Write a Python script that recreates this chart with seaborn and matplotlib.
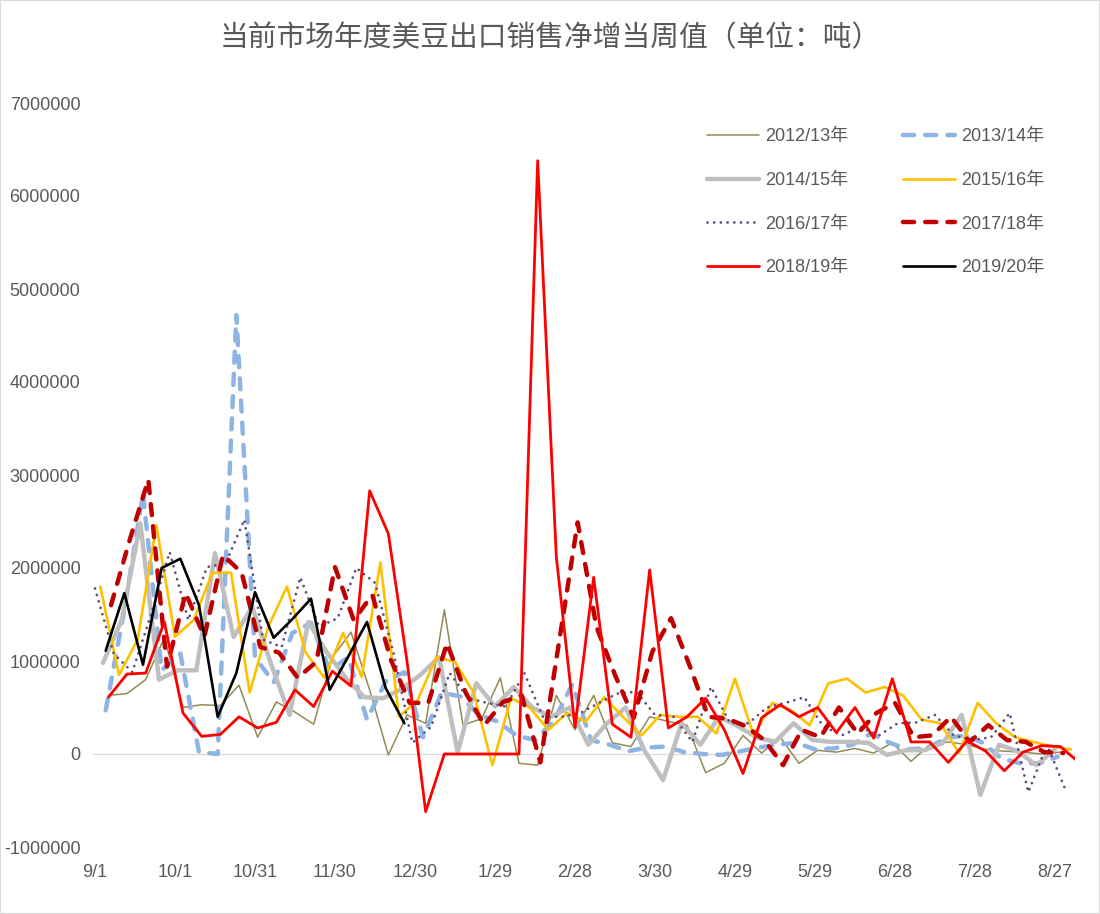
import pandas as pd
import matplotlib.pyplot as plt
import seaborn as sns
from matplotlib.patches import Rectangle

sns.set_style("white")
plt.rcParams['font.family'] = ['Liberation Sans', 'Noto Sans CJK SC']

title = "当前市场年度美豆出口销售净增当周值（单位：吨）"
seasons = ["2012/13年", "2013/14年", "2014/15年", "2015/16年",
           "2016/17年", "2017/18年", "2018/19年", "2019/20年"]
# first weekly report date of each marketing year
start_dates = ["2012-09-06", "2013-09-05", "2014-09-04", "2015-09-03",
               "2016-09-01", "2017-09-07", "2018-09-06", "2019-09-05"]
tick_labels = ["9/1", "10/1", "10/31", "11/30", "12/30", "1/29", "2/28",
               "3/30", "4/29", "5/29", "6/28", "7/28", "8/27"]

# weekly net sales, million tonnes
s1213 = [0.63, 0.65, 0.80, 1.25, 0.50, 0.53, 0.52, 0.74, 0.18, 0.56,
         0.45, 0.32, 1.04, 1.31, 0.69, -0.01, 0.42, 0.33, 1.55, 0.31,
         0.38, 0.82, -0.10, -0.12, 0.63, 0.26, 0.63, 0.12, 0.08, 0.40,
         0.35, 0.31, -0.20, -0.10, 0.20, 0.01, 0.18, -0.10, 0.04, 0.02,
         0.06, 0.01, 0.12, -0.08, 0.10, 0.13, 0.10, 0.05, 0.03, 0.02,
         0.00, 0.02]
s1314 = [0.47, 1.55, 2.80, 0.90, 1.08, 0.02, 0.00, 4.72, 1.04, 0.77,
         1.30, 1.41, 0.90, 1.04, 0.37, 0.78, 0.88, 0.18, 0.66, 0.62,
         0.42, 0.35, 0.20, 0.15, 0.35, 0.75, 0.15, 0.10, 0.03, 0.07,
         0.08, 0.02, 0.00, -0.01, 0.03, 0.07, 0.10, 0.12, 0.05, 0.06,
         0.10, 0.22, 0.12, 0.05, 0.06, 0.17, 0.20, 0.12, -0.05, -0.10,
         -0.10, -0.03]
s1415 = [0.98, 1.44, 2.48, 0.80, 0.90, 0.90, 2.16, 1.26, 1.58, 0.97,
         0.42, 1.42, 1.09, 0.82, 0.61, 0.60, 0.70, 0.85, 1.04, 0.02,
         0.76, 0.51, 0.72, 0.50, 0.40, 0.50, 0.10, 0.33, 0.50, 0.04,
         -0.28, 0.33, 0.10, 0.40, 0.30, 0.18, 0.13, 0.33, 0.15, 0.13,
         0.13, 0.12, -0.01, 0.04, 0.04, 0.12, 0.42, -0.44, 0.10, 0.03,
         -0.12, 0.05]
s1516 = [1.80, 0.85, 1.23, 2.46, 1.26, 1.44, 1.95, 1.95, 0.66, 1.37,
         1.80, 1.09, 0.82, 1.30, 0.83, 2.06, 0.40, 0.58, 1.04, 0.99,
         0.66, -0.12, 0.60, 0.50, 0.26, 0.44, 0.35, 0.61, 0.40, 0.20,
         0.42, 0.40, 0.40, 0.22, 0.81, 0.20, 0.55, 0.47, 0.31, 0.76,
         0.81, 0.66, 0.72, 0.63, 0.37, 0.33, 0.01, 0.55, 0.33, 0.18,
         0.13, 0.08, 0.05]
s1617 = [1.78, 1.08, 0.88, 1.50, 2.17, 1.44, 2.01, 2.05, 2.52, 1.23,
         1.15, 1.90, 1.37, 1.46, 2.00, 1.84, 1.08, 0.12, 0.29, 0.87,
         0.60, 0.55, 0.51, 0.87, 0.40, 0.40, 0.44, 0.55, 0.65, 0.67,
         0.42, 0.40, 0.13, 0.72, 0.34, 0.33, 0.50, 0.55, 0.61, 0.30,
         0.20, 0.29, 0.20, 0.33, 0.34, 0.42, 0.20, 0.15, 0.18, 0.44,
         -0.41, 0.10, -0.39]
s1718 = [1.60, 2.30, 2.95, 0.94, 1.73, 1.26, 2.14, 1.95, 1.15, 1.09,
         0.82, 0.99, 2.01, 1.44, 1.71, 1.01, 0.55, 0.55, 1.19, 0.66,
         0.31, 0.56, 0.63, -0.09, 1.20, 2.49, 1.37, 0.85, 0.39, 1.10,
         1.46, 0.95, 0.40, 0.38, 0.30, 0.15, -0.12, 0.26, 0.18, 0.50,
         0.22, 0.44, 0.55, 0.18, 0.20, 0.40, 0.13, 0.31, 0.15, 0.13,
         0.02, 0.01]
s1819 = [0.61, 0.86, 0.87, 1.42, 0.44, 0.19, 0.21, 0.40, 0.28, 0.34,
         0.69, 0.51, 0.89, 0.73, 2.83, 2.37, 1.00, -0.62, 0.00, 0.00,
         0.00, 0.00, 0.00, 6.38, 2.12, 0.29, 1.90, 0.32, 0.18, 1.98,
         0.28, 0.40, 0.60, 0.26, -0.21, 0.39, 0.53, 0.40, 0.50, 0.23,
         0.50, 0.17, 0.81, 0.13, 0.13, -0.09, 0.14, 0.03, -0.18, 0.02,
         0.09, 0.08, -0.09]
s1920 = [1.11, 1.73, 0.96, 2.00, 2.10, 1.60, 0.40, 0.87, 1.74, 1.25,
         1.45, 1.67, 0.69, 1.05, 1.42, 0.71, 0.33]

series = [s1213, s1314, s1415, s1516, s1617, s1718, s1819, s1920]

styles = [
    dict(color="#948A54", linewidth=1.1, linestyle="-"),
    dict(color="#8EB4E3", linewidth=3.2, linestyle=(0, (2.5, 2.5)), dash_capstyle="round"),
    dict(color="#BFBFBF", linewidth=3.2, linestyle="-"),
    dict(color="#FFC000", linewidth=1.9, linestyle="-"),
    dict(color="#604A7B", linewidth=2.0, linestyle=(0, (0.01, 2.4)), dash_capstyle="round"),
    dict(color="#C00000", linewidth=3.2, linestyle=(0, (2.5, 2.5)), dash_capstyle="round"),
    dict(color="#FF0000", linewidth=2.0, linestyle="-"),
    dict(color="#000000", linewidth=1.9, linestyle="-"),
]

fig = plt.figure(figsize=(11, 9.14), dpi=100)
ax = fig.add_axes([93 / 1100, 1 - 847 / 914, (1075 - 93) / 1100, (847 - 103) / 914])

for name, start, vals, st in zip(seasons, start_dates, series, styles):
    t0 = pd.Timestamp(start)
    days = (pd.date_range(t0, periods=len(vals), freq="7D") - pd.Timestamp(t0.year, 9, 1)).days
    sns.lineplot(x=days.values, y=[v * 1e6 for v in vals], ax=ax, label=name, **st)

ax.axhline(0, color="#D9D9D9", linewidth=0.9, zorder=0)
ax.set_xlim(-0.75, 367.5)
ax.set_ylim(-1e6, 7e6)
ax.set_xticks(range(0, 361, 30))
ax.set_xticklabels(tick_labels)
yt = list(range(-1000000, 7000001, 1000000))
ax.set_yticks(yt)
ax.set_yticklabels([str(v) for v in yt])
ax.tick_params(axis="x", length=0, pad=12, labelsize=13, labelcolor="#595959")
ax.tick_params(axis="y", length=0, pad=9, labelsize=13, labelcolor="#595959")
for sp in ax.spines.values():
    sp.set_visible(False)
ax.grid(False)

handles, labels = ax.get_legend_handles_labels()
order = [0, 2, 4, 6, 1, 3, 5, 7]
ax.legend([handles[i] for i in order], [labels[i] for i in order], ncol=2,
          loc="upper left", bbox_to_anchor=(0.625, 0.966), frameon=False,
          fontsize=13, labelcolor="#595959", handlelength=2.9, handletextpad=0.35,
          columnspacing=3.0, labelspacing=1.48, borderpad=0, borderaxespad=0)

fig.text(0.5, 1 - 38 / 914, title, ha="center", va="center", fontsize=20.7,
         color="#595959", family=["Noto Sans CJK SC"])
fig.add_artist(Rectangle((0, 0), 1, 1, transform=fig.transFigure, fill=False,
                         edgecolor="#D9D9D9", linewidth=1.5))

fig.savefig("out.png", dpi=100)
